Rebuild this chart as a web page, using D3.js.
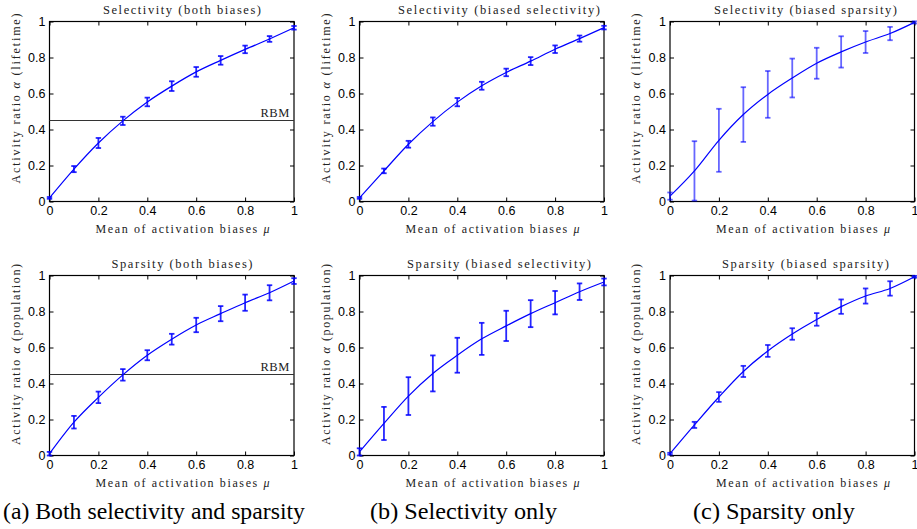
<!DOCTYPE html>
<html><head><meta charset="utf-8">
<script src="https://cdn.jsdelivr.net/npm/d3@7"></script>
<style>body{margin:0;background:#fff}svg{display:block}</style>
</head><body>
<script>
// ---- data ----
const mu = [0, 0.1, 0.2, 0.3, 0.4, 0.5, 0.6, 0.7, 0.8, 0.9, 1];
const selBoth        = [0.02, 0.18, 0.325, 0.448, 0.553, 0.641, 0.72, 0.784, 0.845, 0.903, 0.965];
const selBothErr     = [0.005, 0.017, 0.028, 0.023, 0.024, 0.027, 0.027, 0.024, 0.021, 0.016, 0.01];
const selBiasSel     = [0.02, 0.17, 0.318, 0.444, 0.552, 0.643, 0.717, 0.78, 0.846, 0.905, 0.966];
const selBiasSelErr  = [0.005, 0.013, 0.019, 0.023, 0.023, 0.022, 0.021, 0.022, 0.021, 0.017, 0.01];
const selBiasSpa     = [0.03, 0.17, 0.34, 0.483, 0.595, 0.686, 0.768, 0.831, 0.886, 0.933, 0.995];
const selBiasSpaErr  = [0.02, 0.165, 0.175, 0.152, 0.13, 0.108, 0.086, 0.087, 0.061, 0.037, 0.006];
const spaBoth        = [0.01, 0.185, 0.323, 0.448, 0.557, 0.646, 0.725, 0.788, 0.849, 0.904, 0.969];
const spaBothErr     = [0.01, 0.035, 0.032, 0.032, 0.028, 0.03, 0.04, 0.042, 0.045, 0.042, 0.016];
const spaBiasSel     = [0.02, 0.178, 0.33, 0.456, 0.557, 0.648, 0.72, 0.788, 0.849, 0.91, 0.964];
const spaBiasSelErr  = [0.02, 0.092, 0.105, 0.1, 0.097, 0.089, 0.084, 0.075, 0.065, 0.046, 0.019];
const spaBiasSpa     = [0.01, 0.17, 0.325, 0.467, 0.581, 0.675, 0.756, 0.827, 0.886, 0.928, 0.993];
const spaBiasSpaErr  = [0.005, 0.017, 0.027, 0.031, 0.033, 0.032, 0.035, 0.04, 0.042, 0.04, 0.005];
const rbmLevel = 0.45;
const tickValues = [0, 0.2, 0.4, 0.6, 0.8, 1];
const tickLabels = ["0", "0.2", "0.4", "0.6", "0.8", "1"];
const titles = ["Selectivity (both biases)", "Selectivity (biased selectivity)", "Selectivity (biased sparsity)",
                "Sparsity (both biases)", "Sparsity (biased selectivity)", "Sparsity (biased sparsity)"];
const yLabelParts = [["Activity ratio ", "α", " (lifetime)"], ["Activity ratio ", "α", " (population)"]];
const xLabelParts = ["Mean of activation biases ", "μ"];
const captions = ["(a)  Both selectivity and sparsity", "(b)  Selectivity only", "(c)  Sparsity only"];

// ---- layout ----
const W = 917, H = 529;
const lefts = [49.5, 359.5, 670];
const tops = [21.5, 275.5];
const pw = 244.5, ph = 180;
const titleCx = [132.5, 139.5, 135.5];
const titleLen = [[158, 202, 183], [141, 184, 167]];
const yLabCy = [77, 79];
const yLabLen = [170, 181];
const captionX = [3, 370, 693];
const captionLen = [302, 187, 162];
const SERIF = '"Liberation Serif", "Times New Roman", serif';
const SANS = '"Liberation Sans", Arial, sans-serif';

const panels = [
  {r:0,c:0,m:selBoth,e:selBothErr,rbm:true,op:0.85},
  {r:0,c:1,m:selBiasSel,e:selBiasSelErr,rbm:false,op:0.85},
  {r:0,c:2,m:selBiasSpa,e:selBiasSpaErr,rbm:false,op:0.6},
  {r:1,c:0,m:spaBoth,e:spaBothErr,rbm:true,op:0.85},
  {r:1,c:1,m:spaBiasSel,e:spaBiasSelErr,rbm:false,op:0.85},
  {r:1,c:2,m:spaBiasSpa,e:spaBiasSpaErr,rbm:false,op:0.8},
];

const svg = d3.select("body").append("svg").attr("width", W).attr("height", H);

panels.forEach((p, i) => {
  const L = lefts[p.c], T = tops[p.r];
  const x = d3.scaleLinear().domain([0, 1]).range([L, L + pw]);
  const y = d3.scaleLinear().domain([0, 1]).range([T + ph, T]);
  const g = svg.append("g");

  const fmt = (d) => tickLabels[tickValues.indexOf(d)];
  const styleAxis = sel => {
    sel.select(".domain").remove();
    sel.selectAll("line").attr("stroke", "#000").attr("stroke-width", 1);
    sel.selectAll("text").style("font-family", SANS).style("font-size", "12.5px").attr("fill", "#000");
  };
  g.append("g").attr("transform", `translate(0,${T + ph})`)
    .call(d3.axisBottom(x).tickValues(tickValues).tickFormat(fmt).tickSize(-4).tickPadding(5)).call(styleAxis);
  g.append("g").attr("transform", `translate(${L},0)`)
    .call(d3.axisLeft(y).tickValues(tickValues).tickFormat(fmt).tickSize(-4).tickPadding(4)).call(styleAxis);
  g.append("g").attr("transform", `translate(0,${T})`)
    .call(d3.axisTop(x).tickValues(tickValues).tickFormat("").tickSize(-4)).call(styleAxis);
  g.append("g").attr("transform", `translate(${L + pw},0)`)
    .call(d3.axisRight(y).tickValues(tickValues).tickFormat("").tickSize(-4)).call(styleAxis);
  g.append("rect").attr("x", L).attr("y", T).attr("width", pw).attr("height", ph)
    .attr("fill", "none").attr("stroke", "#000").attr("stroke-width", 1.2);

  if (p.rbm) {
    g.append("line").attr("x1", x(0)).attr("x2", x(1)).attr("y1", y(rbmLevel)).attr("y2", y(rbmLevel))
      .attr("stroke", "#333").attr("stroke-width", 1.2);
    g.append("text").attr("x", x(1) - 4).attr("y", y(rbmLevel) - 4).attr("text-anchor", "end")
      .style("font-family", SERIF).style("font-size", "12.5px").attr("letter-spacing", 0.6).attr("fill", "#222").text("RBM");
  }

  const pts = mu.map((m, k) => ({x: m, y: p.m[k], e: p.e[k]}));
  const eb = g.append("g").attr("stroke", "#0000ff").attr("stroke-opacity", p.op).attr("stroke-width", 1.8);
  pts.forEach(d => {
    eb.append("line").attr("x1", x(d.x)).attr("x2", x(d.x)).attr("y1", y(d.y - d.e)).attr("y2", y(d.y + d.e));
    eb.append("line").attr("x1", x(d.x) - 2.7).attr("x2", x(d.x) + 2.7).attr("y1", y(d.y - d.e)).attr("y2", y(d.y - d.e));
    eb.append("line").attr("x1", x(d.x) - 2.7).attr("x2", x(d.x) + 2.7).attr("y1", y(d.y + d.e)).attr("y2", y(d.y + d.e));
  });
  g.append("path").datum(pts)
    .attr("d", d3.line().x(d => x(d.x)).y(d => y(d.y)).curve(d3.curveMonotoneX))
    .attr("fill", "none").attr("stroke", "#0000ff").attr("stroke-width", 1.2);

  g.append("text").attr("x", L + titleCx[p.c]).attr("y", T - 8).attr("text-anchor", "middle")
    .style("font-family", SERIF).style("font-size", "12.5px").attr("fill", "#222")
    .attr("textLength", titleLen[p.r][p.c]).attr("lengthAdjust", "spacing").text(titles[i]);

  const xl = g.append("text").attr("x", L + 133).attr("y", T + ph + 31.5).attr("text-anchor", "middle")
    .style("font-family", SERIF).style("font-size", "12px").attr("fill", "#222")
    .attr("textLength", 174).attr("lengthAdjust", "spacing");
  xl.append("tspan").text(xLabelParts[0]);
  xl.append("tspan").style("font-style", "italic").text(xLabelParts[1]);

  const yl = g.append("text").attr("transform", `translate(${L - 30},${T + yLabCy[p.r]}) rotate(-90)`)
    .attr("text-anchor", "middle").style("font-family", SERIF).style("font-size", "12px").attr("fill", "#222")
    .attr("textLength", yLabLen[p.r]).attr("lengthAdjust", "spacing");
  const parts = yLabelParts[p.r];
  yl.append("tspan").text(parts[0]);
  yl.append("tspan").style("font-style", "italic").text(parts[1]);
  yl.append("tspan").text(parts[2]);
});

captions.forEach((c, i) => {
  svg.append("text").attr("x", captionX[i]).attr("y", 519)
    .style("font-family", SERIF).style("font-size", "22.5px").attr("fill", "#000")
    .attr("textLength", captionLen[i]).attr("lengthAdjust", "spacingAndGlyphs").text(c);
});
</script>
</body></html>
